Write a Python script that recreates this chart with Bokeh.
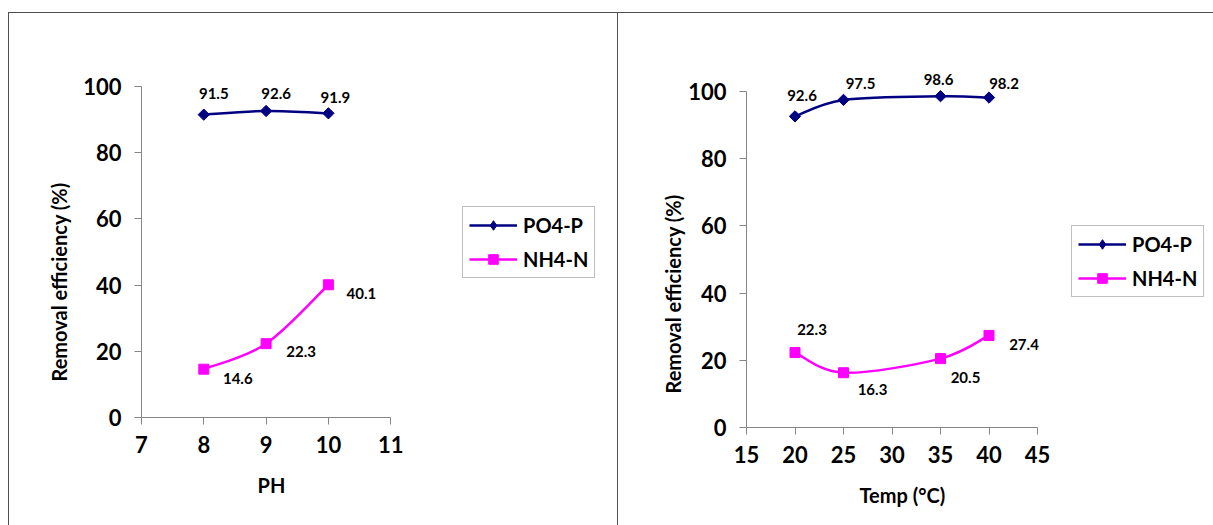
import numpy as np
from bokeh.plotting import figure
from bokeh.models import ColumnDataSource, Legend, LegendItem, Range1d, FixedTicker, Title
from bokeh.layouts import row, column
from bokeh.core.properties import value
from bokeh.embed import file_html
from bokeh.resources import INLINE

# ---------------- data ----------------
ph = [8, 9, 10]
ph_po4 = [91.5, 92.6, 91.9]
ph_nh4 = [14.6, 22.3, 40.1]

temp = [20, 25, 35, 40]
temp_po4 = [92.6, 97.5, 98.6, 98.2]
temp_nh4 = [22.3, 16.3, 20.5, 27.4]

ph_ticks = [7, 8, 9, 10, 11]
temp_ticks = [15, 20, 25, 30, 35, 40, 45]
y_ticks = [0, 20, 40, 60, 80, 100]

series_names = ["PO4-P", "NH4-N"]
y_title = "Removal efficiency (%)"
ph_title = "PH"
temp_title = "Temp (°C)"

# label offsets in screen pixels (dx right, dy down)
ph_po4_dx, ph_po4_dy = [10, 10, 7], [-21, -17, -16]
ph_nh4_dx, ph_nh4_dy = [34, 35, 33], [9, 8, 9]
t_po4_dx, t_po4_dy = [7, 17, -2, 15], [-21, -16, -17, -14]
t_nh4_dx, t_nh4_dy = [17, 29, 25, 35], [-23, 17, 19, 9]

FONT = "Lato"
FONT_V = value(FONT)
BLUE = "#000080"
MAGENTA = "#FF00FF"
AXIS = "#868686"
BORDER = "1.5px solid #505050"


def smooth(xs, ys):
    """Catmull-Rom style smoothing (spreadsheet 'smoothed line') -> bezier segments."""
    xs = np.asarray(xs, float)
    ys = np.asarray(ys, float)
    n = len(xs)
    qx = np.concatenate([[xs[0]], xs, [xs[-1]]])
    qy = np.concatenate([[ys[0]], ys, [ys[-1]]])
    P0x, P1x, P2x, P3x = qx[0:n - 1], qx[1:n], qx[2:n + 1], qx[3:n + 2]
    P0y, P1y, P2y, P3y = qy[0:n - 1], qy[1:n], qy[2:n + 1], qy[3:n + 2]
    return dict(x0=P1x, y0=P1y, x1=P2x, y1=P2y,
                cx0=P1x + (P2x - P0x) / 6, cy0=P1y + (P2y - P0y) / 6,
                cx1=P2x - (P3x - P1x) / 6, cy1=P2y - (P3y - P1y) / 6)


def title(text, align, offset, standoff, valign):
    return Title(text=text, align=align, offset=offset, standoff=standoff,
                 vertical_align=valign, text_font=FONT, text_font_style="bold",
                 text_font_size="20px", text_color="black")


def panel(xs, po4, nh4, xticks, xlabel, ppu_x, ppu_y, width,
          mb_left, mb_bottom, offs, legend_loc, xt, yt):
    height = 513
    mb_top = 22
    mb_right = 4
    frame_w = width - mb_left - mb_right
    frame_h = height - mb_top - mb_bottom
    x_end = xticks[0] + frame_w / ppu_x
    y_end = frame_h / ppu_y
    p = figure(width=width, height=height, output_backend="svg", toolbar_location=None,
               x_range=Range1d(xticks[0], x_end), y_range=Range1d(0, y_end),
               min_border_left=mb_left, min_border_right=mb_right,
               min_border_top=mb_top, min_border_bottom=mb_bottom)
    p.outline_line_color = None
    p.grid.visible = False
    p.background_fill_color = "white"
    p.border_fill_color = "white"

    for ax in (p.xaxis[0], p.yaxis[0]):
        ax.axis_line_color = AXIS
        ax.major_tick_line_color = AXIS
        ax.minor_tick_line_color = None
        ax.major_tick_out = 7
        ax.major_tick_in = 0
        ax.major_label_text_font = FONT
        ax.major_label_text_font_style = "bold"
        ax.major_label_text_font_size = "22px"
        ax.major_label_text_color = "black"
    p.xaxis[0].ticker = FixedTicker(ticks=xticks)
    p.xaxis[0].bounds = (xticks[0], xticks[-1])
    p.yaxis[0].ticker = FixedTicker(ticks=y_ticks)
    p.yaxis[0].bounds = (0, 100)
    p.xaxis[0].major_label_standoff = 11
    p.yaxis[0].major_label_standoff = 13

    # axis titles, placed along the bounded axes
    p.add_layout(title(xlabel, "left", xt[0], xt[1], "top"), "below")
    p.add_layout(title(y_title, "left", yt[0], yt[1], "bottom"), "left")

    items = []
    for vals, color, leg_marker, size, angle, name, (dx, dy) in (
            (po4, BLUE, "diamond", 8, np.pi / 4, series_names[0], offs[0]),
            (nh4, MAGENTA, "square", 10, 0, series_names[1], offs[1])):
        seg = ColumnDataSource(smooth(xs, vals))
        br = p.bezier(x0="x0", y0="y0", x1="x1", y1="y1", cx0="cx0", cy0="cy0",
                      cx1="cx1", cy1="cy1", source=seg, line_color=color, line_width=2.5)
        src = ColumnDataSource(dict(x=xs, y=vals, t=[f"{v:.1f}" for v in vals], dx=dx, dy=dy))
        p.scatter("x", "y", source=src, marker="square", size=size, angle=angle,
                  fill_color=color, line_color=color)
        # legend-only marker (no drawable point in the plot)
        lr = p.scatter(x=[float("nan")], y=[float("nan")], marker=leg_marker, size=size,
                       fill_color=color, line_color=color)
        p.text("x", "y", text="t", source=src, x_offset="dx", y_offset="dy",
               text_align="center", text_baseline="middle", text_font=FONT_V,
               text_font_style="bold", text_font_size="15px", text_color="black")
        items.append(LegendItem(label=name, renderers=[br, lr]))

    leg = Legend(items=items, location=legend_loc)
    leg.label_text_font = FONT
    leg.label_text_font_style = "bold"
    leg.label_text_font_size = "20px"
    leg.label_text_color = "black"
    leg.glyph_width = 48
    leg.glyph_height = 24
    leg.label_standoff = 6
    leg.spacing = 10
    leg.padding = 6
    leg.margin = 0
    leg.border_line_color = "#7f7f7f"
    leg.border_line_width = 1
    leg.background_fill_alpha = 1.0
    p.add_layout(leg, "center")
    return p


p1 = panel(ph, ph_po4, ph_nh4, ph_ticks, ph_title, 62.3, 3.31, 609,
           132, 109,
           ((ph_po4_dx, ph_po4_dy), (ph_nh4_dx, ph_nh4_dy)),
           (321, 139), (116, 34), (36, 20))
p2 = panel(temp, temp_po4, temp_nh4, temp_ticks, temp_title, 9.7, 3.36, 596,
           128, 99,
           ((t_po4_dx, t_po4_dy), (t_nh4_dx, t_nh4_dy)),
           (325, 130), (113, 34), (34, 2))

p1.styles = {"border-left": BORDER, "border-top": BORDER}
p2.styles = {"border-left": BORDER, "border-top": BORDER}

layout = row(column(p1), column(p2), margin=(12, 0, 0, 8))

open("out.html", "w").write(file_html(layout, INLINE))
